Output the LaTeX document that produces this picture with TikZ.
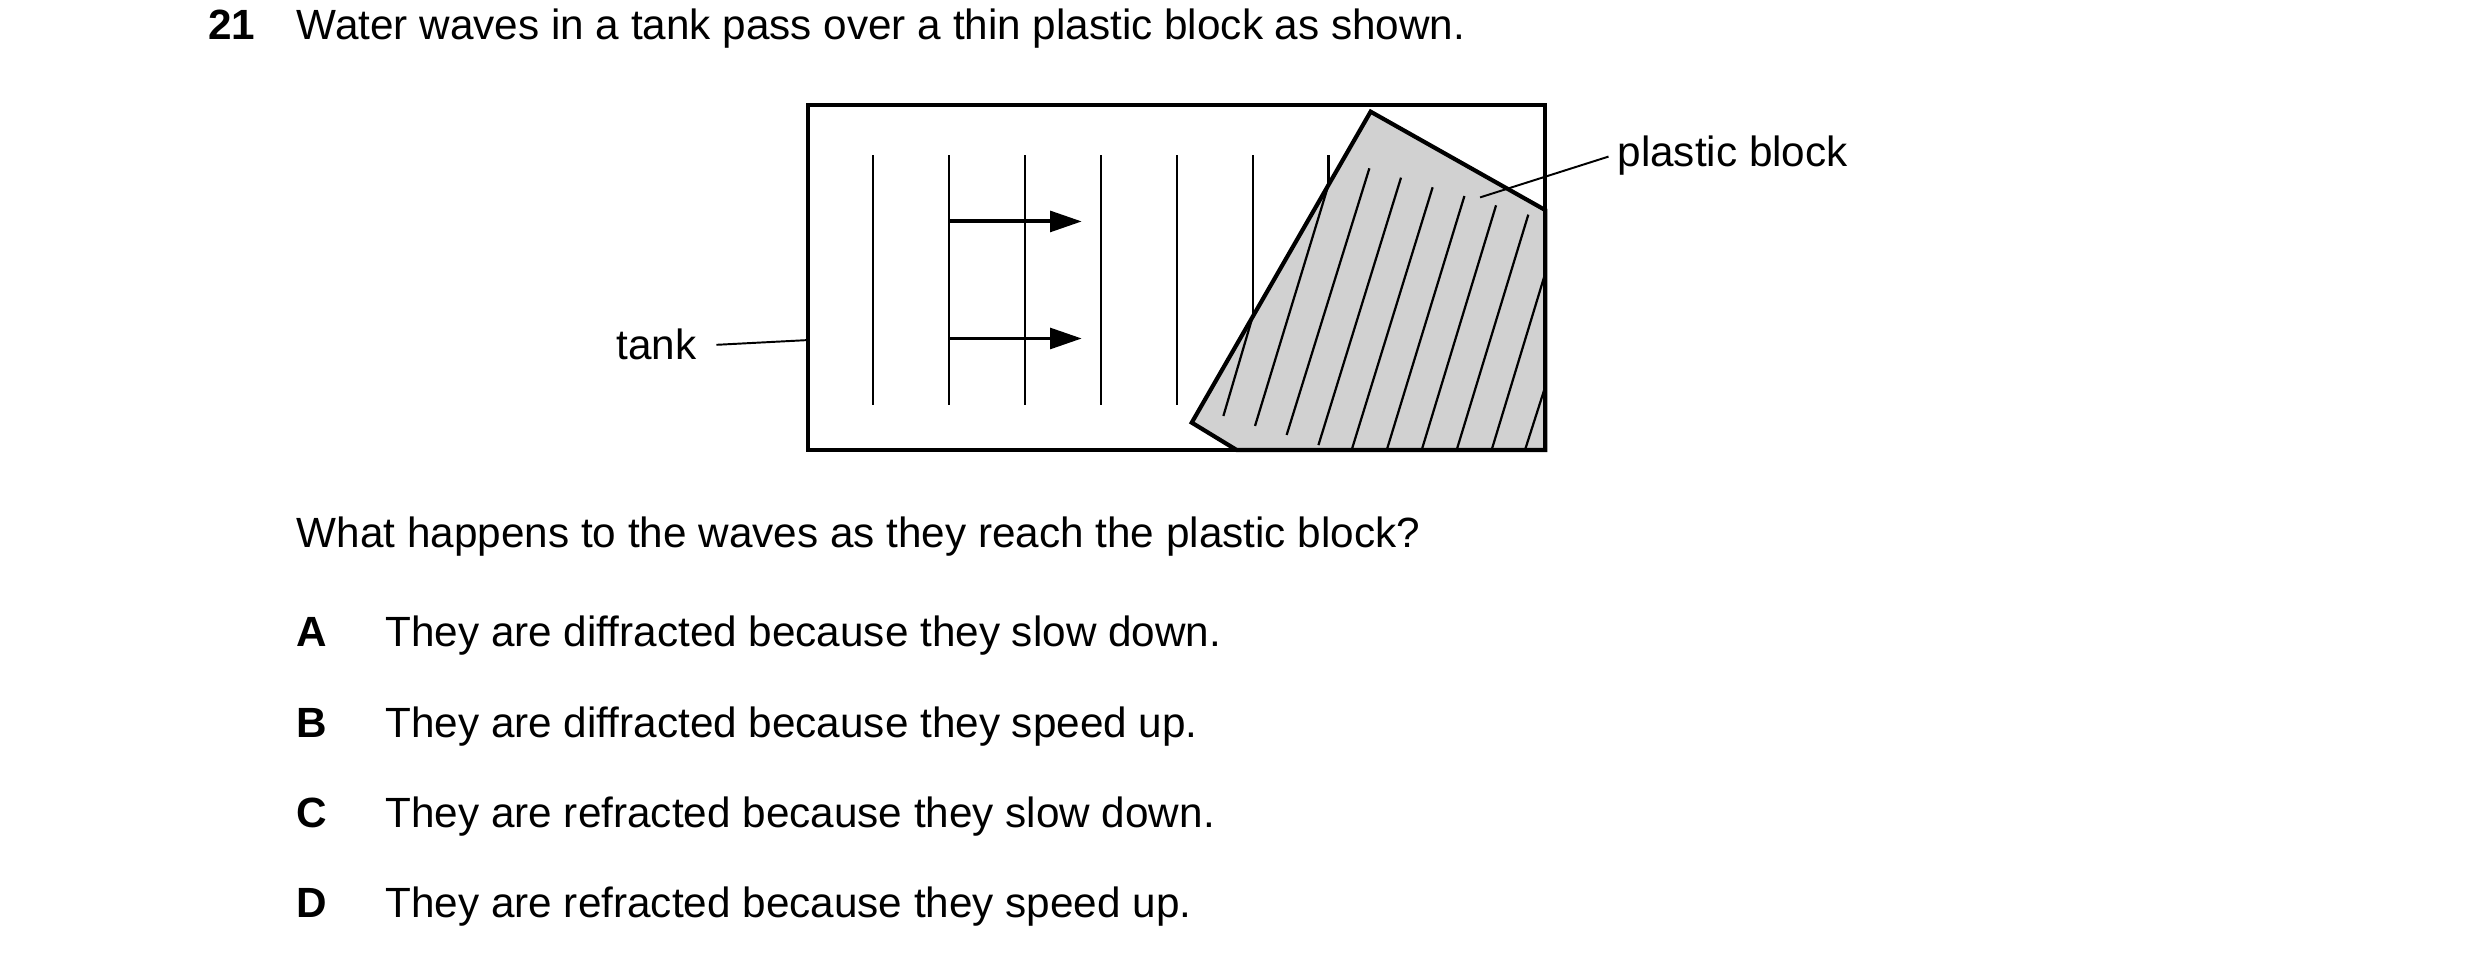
\documentclass[tikz,border=0pt]{standalone}
\usepackage{fontspec}
\setmainfont{Liberation Sans}
\usetikzlibrary{arrows.meta,positioning}

\begin{document}
\begin{tikzpicture}[x=0.01cm, y=-0.01cm]
  \tikzstyle{txt}=[anchor=base west, inner sep=0pt, font=\fontsize{7.6}{9}\selectfont]
  \tikzstyle{wave}=[line width=0.4pt]
  \tikzstyle{edge}=[line width=0.75pt, line join=miter]
  \tikzstyle{leader}=[line width=0.35pt]
  \tikzstyle{dir}=[line width=0.7pt, -{Triangle[length=0.2cm, width=0.13cm]}]

  \useasboundingbox (0,0) rectangle (1568,611);

  % Frage
  \node[txt, font=\fontsize{7.6}{9}\selectfont\bfseries] (num) at (131,25) {21};
  \node[txt] (q) at (187,25) {Water waves in a tank pass over a thin plastic block as shown.};

  % Wellen
  \foreach \x in {552,600,648,696,744,792,840}
    \draw[wave] (\x,98) -- (\x,256);
  \coordinate (a1) at (600,140);
  \coordinate (b1) at (684,140);
  \coordinate (a2) at (600,214);
  \coordinate (b2) at (684,214);
  \draw[dir] (a1) -- (b1);
  \draw[dir] (a2) -- (b2);

  % Block
  \draw[edge, fill=black!18!white] (866.6,70.6) coordinate (blk) -- (977,132.8) -- (977,284.5)
    -- (781.9,284.5) -- (753.5,267.2) -- cycle;
  \foreach \xa/\ya/\xb/\yb in {792/200.2/773.5/263, 839.9/117/793.5/269.3, 865.8/106.4/813.5/275,
      885.8/112.3/833.6/281.4, 905.8/118.4/854.6/284.5, 925.9/123.9/876.8/284.5,
      945.9/129.8/898.9/284.5, 966.3/135.7/921/284.5, 977/172.8/943.1/284.5, 977/244.5/964.2/284.5}
    \draw[wave] (\xa,\ya) -- (\xb,\yb);

  % Tank
  \draw[edge] (511,66.4) rectangle (977,284.5);
  \coordinate (tankL) at (511,215);
  \coordinate (blkP) at (935.8,124.8);

  % Beschriftungen
  \node[txt, anchor=base east] (tank) at (441,227) {tank};
  \node[txt] (plastic) at (1022,105) {plastic block};
  \draw[leader] (453,218) -- (tankL);
  \draw[leader] (1017,99) -- (blkP);

  % Antworten
  \node[txt] (ask) at (187,346) {What happens to the waves as they reach the plastic block?};
  \foreach \l/\t/\y in {A/They are diffracted because they slow down./409,
      B/They are diffracted because they speed up./466,
      C/They are refracted because they slow down./523,
      D/They are refracted because they speed up./580} {
    \node[txt, font=\fontsize{7.6}{9}\selectfont\bfseries] (opt\l) at (187,\y) {\l};
    \node[txt] (ans\l) at (243,\y) {\t};
  }
\end{tikzpicture}
\end{document}
